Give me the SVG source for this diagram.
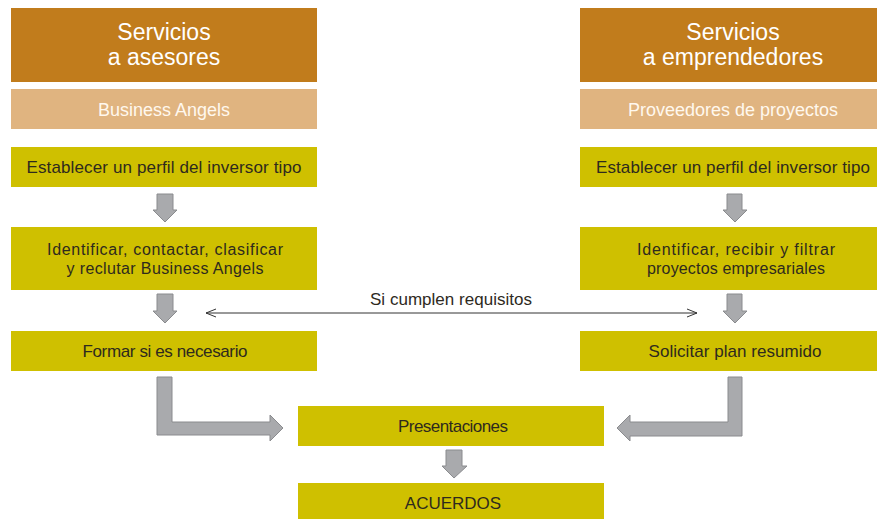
<svg xmlns="http://www.w3.org/2000/svg" width="877" height="519" viewBox="0 0 877 519">
<defs>
<style>
.hdr{fill:#C17C1C}
.sub{fill:#E0B480}
.box{fill:#CFC000}
.t{font-family:"Liberation Sans",Arial,sans-serif;text-anchor:middle}
.th{font-size:23px;fill:#FFFFFF}
.ts{font-size:18px;fill:#FFF8EE}
.tb{font-size:17px;fill:#2E2A1E}
.tm{font-size:16px;fill:#2E2A1E}
.arr{fill:#A9AAAD;stroke:#8A8B8E;stroke-width:1}
.ln{stroke:#333333;stroke-width:1;fill:none}
</style>
<marker id="open" viewBox="0 0 10 10" refX="10" refY="5" markerWidth="10" markerHeight="10" markerUnits="userSpaceOnUse" orient="auto-start-reverse">
<path d="M0,1 L10,5 L0,9" fill="none" stroke="#333333" stroke-width="1"/>
</marker>
</defs>
<rect width="877" height="519" fill="#FFFFFF"/>

<g id="header-left">
<rect class="hdr" x="11" y="8" width="306" height="74"/>
<text class="t th" x="164" y="40">Servicios</text>
<text class="t th" x="164" y="65">a asesores</text>
</g>
<g id="sub-left">
<rect class="sub" x="11" y="89" width="306" height="40"/>
<text class="t ts" x="164" y="116">Business Angels</text>
</g>
<g id="perfil-left">
<rect class="box" x="11" y="147" width="306" height="40"/>
<text class="t tb" x="164" y="173" textLength="275">Establecer un perfil del inversor tipo</text>
</g>
<g id="identificar-left">
<rect class="box" x="11" y="227" width="306" height="63"/>
<text class="t tm" x="165" y="255" textLength="236">Identificar, contactar, clasificar</text>
<text class="t tm" x="165" y="274" textLength="197">y reclutar Business Angels</text>
</g>
<g id="formar">
<rect class="box" x="11" y="331" width="306" height="40"/>
<text class="t tb" x="165" y="357" textLength="165">Formar si es necesario</text>
</g>

<g id="header-right">
<rect class="hdr" x="580" y="8" width="297" height="74"/>
<text class="t th" x="733" y="40">Servicios</text>
<text class="t th" x="733" y="65">a emprendedores</text>
</g>
<g id="sub-right">
<rect class="sub" x="580" y="89" width="297" height="40"/>
<text class="t ts" x="733" y="116">Proveedores de proyectos</text>
</g>
<g id="perfil-right">
<rect class="box" x="580" y="147" width="297" height="40"/>
<text class="t tb" x="733" y="173" textLength="274">Establecer un perfil del inversor tipo</text>
</g>
<g id="identificar-right">
<rect class="box" x="580" y="227" width="297" height="63"/>
<text class="t tm" x="736" y="255" textLength="198">Identificar, recibir y filtrar</text>
<text class="t tm" x="736" y="274" textLength="178">proyectos empresariales</text>
</g>
<g id="solicitar">
<rect class="box" x="580" y="331" width="297" height="40"/>
<text class="t tb" x="735" y="357" textLength="173">Solicitar plan resumido</text>
</g>

<g id="presentaciones">
<rect class="box" x="298" y="406" width="306" height="40"/>
<text class="t tb" x="453" y="432" textLength="110">Presentaciones</text>
</g>
<g id="acuerdos">
<rect class="box" x="298" y="483" width="306" height="36"/>
<text class="t tb" x="453" y="509">ACUERDOS</text>
</g>

<g id="connectors">
<path class="arr" d="M157,194 H173 V210 H177 L165,222 L153,210 H157 Z"/>
<path class="arr" d="M157,294 H173 V311 H177 L165,323 L153,311 H157 Z"/>
<path class="arr" d="M727,194 H742 V210 H747 L735,222 L723,210 H727 Z"/>
<path class="arr" d="M727,294 H742 V311 H747 L735,323 L723,311 H727 Z"/>
<path class="arr" d="M446,450 H462 V466 H467 L454,478 L442,466 H446 Z"/>
<path class="arr" d="M157,377 H172 V422 H270 V415 L283,428 L270,441 V435 H157 Z"/>
<path class="arr" d="M728,377 H742 V436 H630 V441 L617,428 L630,415 V422 H728 Z"/>
<line class="ln" x1="206" y1="313" x2="697" y2="313" marker-start="url(#open)" marker-end="url(#open)"/>
<text class="t tb" x="451" y="305" textLength="162">Si cumplen requisitos</text>
</g>
</svg>
